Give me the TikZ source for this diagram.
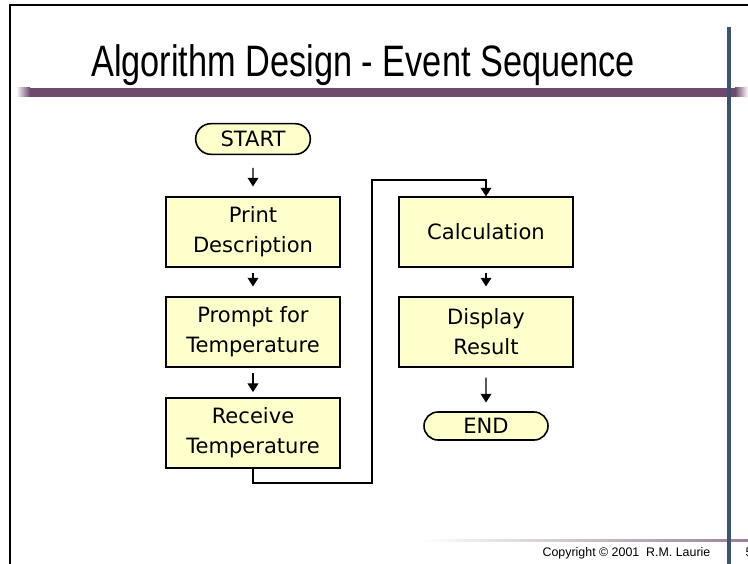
\documentclass[tikz,border=0pt]{standalone}
\usepackage{fontspec}
\setmainfont{DejaVu Sans}
\newfontfamily\titlefont{Liberation Sans}[FakeStretch=0.78]
\newfontfamily\footfont{Liberation Sans}
\usetikzlibrary{arrows.meta, positioning, shapes.misc}
\definecolor{boxfill}{RGB}{255,255,204}
\definecolor{barpurple}{RGB}{110,74,108}
\definecolor{rulerblue}{RGB}{58,84,114}
\definecolor{rulertan}{RGB}{214,196,168}

\begin{document}
\begin{tikzpicture}[x=0.75pt, y=-0.75pt, font=\fontsize{15.8}{22.5}\selectfont, box style/.style={draw=black, line width=1.3pt, fill=boxfill, minimum width=131pt, minimum height=52pt, align=center, inner sep=2pt}, term style/.style={rounded rectangle, draw=black, line width=1.2pt, fill=boxfill, minimum width=88pt, minimum height=23pt, inner sep=1pt}, flow edge/.style={-{Triangle[length=6.5pt, width=8pt]}, line width=1pt, shorten <=4pt, shorten >=6pt}, link edge/.style={-{Triangle[length=6.5pt, width=8pt]}, line width=1.1pt}]

    \useasboundingbox (0,0) rectangle (748,563);

    % =========================================================================
    % Slide frame, title and rulers
    % =========================================================================
    \draw[line width=2.2pt] (10,600) -- (10,5) -- (800,5);
    \node[anchor=base, font=\titlefont\fontsize{33}{33}\selectfont] (title) at (363,77) {Algorithm Design - Event Sequence};

    \fill[barpurple] (30,88) rectangle (735,97);
    \shade[left color=white, right color=barpurple] (16,88) rectangle (30,97);
    \shade[left color=barpurple, right color=white] (735,88) rectangle (748,97);

    \shade[left color=white, middle color=rulertan, right color=barpurple!70] (420,539) rectangle (748,541.5);

    \draw[rulertan, line width=3.6pt] (729,27) -- (729,570);
    \draw[rulerblue, line width=2.4pt] (729,27) -- (729,570);

    \node[anchor=base east, font=\footfont\fontsize{9.3}{11}\selectfont] (copy) at (715,556) {Copyright \textcopyright{} 2001\ \ R.M. Laurie};
    \node[anchor=base west, font=\footfont\fontsize{9.3}{11}\selectfont] (pageno) at (741,556) {5};

    % =========================================================================
    % Flowchart
    % =========================================================================
    % Left column
    \node[term style] (start) at (253,139) {START};
    \node[box style] (print) at (253,232) {Print\\Description};
    \node[box style] (prompt) at (253,332) {Prompt for\\Temperature};
    \node[box style] (receive) at (253,433) {Receive\\Temperature};

    % Right column
    \node[box style] (calc) at (486,232) {Calculation};
    \node[box style] (display) at (486,332) {Display\\Result};
    \node[term style, minimum width=95pt, minimum height=21pt] (finish) at (486,426) {END};

    % Arrows
    \draw[flow edge, shorten <=9.5pt, shorten >=7.5pt] (start) -- (print);
    \draw[flow edge, shorten >=7.5pt] (print) -- (prompt);
    \draw[flow edge, shorten >=4pt] (prompt) -- (receive);
    \draw[flow edge, shorten >=7.5pt] (calc) -- (display);
    \draw[flow edge, shorten <=7.5pt, shorten >=6.5pt] (display) -- (finish);

    % Jump from left column to right column
    \coordinate (jump bottom) at (372,483);
    \coordinate (jump top) at (372,180);
    \draw[link edge] (receive.south) |- (jump bottom) -- (jump top) -| (calc.north);

\end{tikzpicture}
\end{document}
